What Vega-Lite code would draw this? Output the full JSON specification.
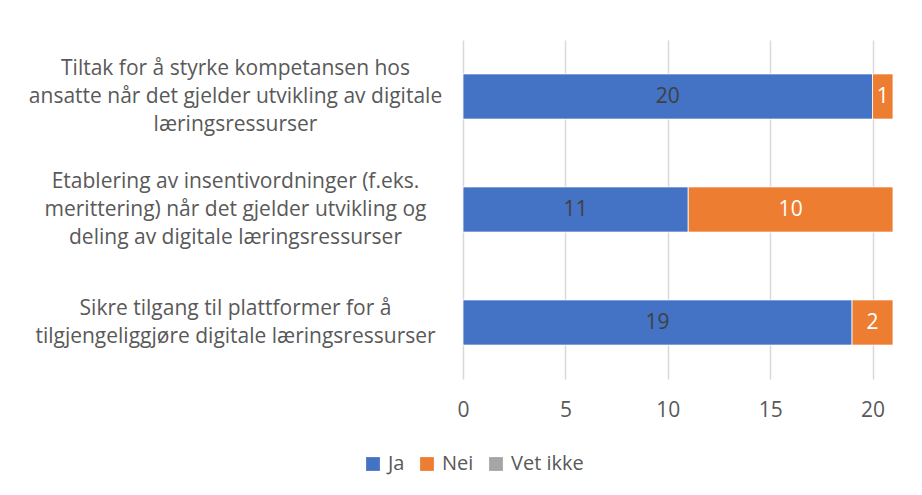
{
  "$schema": "https://vega.github.io/schema/vega-lite/v6.json",
  "width": 430,
  "height": 339,
  "autosize": "none",
  "padding": {"left": 463, "top": 40, "right": 29, "bottom": 116},
  "background": "white",
  "config": {
    "view": {"stroke": null},
    "font": "Open Sans",
    "axis": {"labelFont": "Open Sans", "labelColor": "#595959"},
    "legend": {"labelFont": "Open Sans", "labelColor": "#595959"}
  },
  "data": {
    "values": [
      {"tiltak": "Tiltak for å styrke kompetansen hos ansatte når det gjelder utvikling av digitale læringsressurser", "svar": "Ja", "antall": 20},
      {"tiltak": "Tiltak for å styrke kompetansen hos ansatte når det gjelder utvikling av digitale læringsressurser", "svar": "Nei", "antall": 1},
      {"tiltak": "Etablering av insentivordninger (f.eks. merittering) når det gjelder utvikling og deling av digitale læringsressurser", "svar": "Ja", "antall": 11},
      {"tiltak": "Etablering av insentivordninger (f.eks. merittering) når det gjelder utvikling og deling av digitale læringsressurser", "svar": "Nei", "antall": 10},
      {"tiltak": "Sikre tilgang til plattformer for å tilgjengeliggjøre digitale læringsressurser", "svar": "Ja", "antall": 19},
      {"tiltak": "Sikre tilgang til plattformer for å tilgjengeliggjøre digitale læringsressurser", "svar": "Nei", "antall": 2}
    ]
  },
  "transform": [
    {"stack": "antall", "groupby": ["tiltak"], "sort": [{"field": "svar", "order": "ascending"}], "as": ["x0", "x1"]}
  ],
  "encoding": {
    "y": {
      "field": "tiltak",
      "type": "nominal",
      "sort": [
        "Tiltak for å styrke kompetansen hos ansatte når det gjelder utvikling av digitale læringsressurser",
        "Etablering av insentivordninger (f.eks. merittering) når det gjelder utvikling og deling av digitale læringsressurser",
        "Sikre tilgang til plattformer for å tilgjengeliggjøre digitale læringsressurser"
      ],
      "scale": {"paddingInner": 0.6, "paddingOuter": 0.3},
      "axis": {
        "title": null,
        "domain": false,
        "ticks": false,
        "tickSize": 0,
        "labelPadding": 228,
        "labelAlign": "center",
        "labelBaseline": "middle",
        "labelFontSize": 21,
        "labelLineHeight": 28,
        "labelLimit": 0,
        "labelOffset": {"condition": {"test": "indexof(datum.value, 'Sikre') == 0", "value": -14}, "value": -28},
        "labelExpr": "indexof(datum.value, 'Tiltak') == 0 ? ['Tiltak for å styrke kompetansen hos', 'ansatte når det gjelder utvikling av digitale', 'læringsressurser'] : indexof(datum.value, 'Etablering') == 0 ? ['Etablering av insentivordninger (f.eks.', 'merittering) når det gjelder utvikling og', 'deling av digitale læringsressurser'] : ['Sikre tilgang til plattformer for å', 'tilgjengeliggjøre digitale læringsressurser']"
      }
    }
  },
  "layer": [
    {
      "mark": {"type": "bar", "stroke": "white", "strokeWidth": 0.8},
      "encoding": {
        "x": {
          "field": "x0",
          "type": "quantitative",
          "scale": {"domain": [0, 21], "nice": false},
          "axis": {
            "title": null,
            "values": [0, 5, 10, 15, 20],
            "domain": false,
            "ticks": false,
            "labelPadding": 20,
            "labelFontSize": 21,
            "gridColor": "#D9D9D9",
            "gridWidth": 1.5,
            "labelFlush": false
          }
        },
        "x2": {"field": "x1"},
        "color": {
          "field": "svar",
          "type": "nominal",
          "scale": {"domain": ["Ja", "Nei", "Vet ikke"], "range": ["#4472C4", "#ED7D31", "#A5A5A5"]},
          "legend": {
            "title": null,
            "orient": "none",
            "direction": "horizontal",
            "legendX": -100,
            "legendY": 414,
            "symbolType": "square",
            "symbolSize": 190,
            "symbolStrokeWidth": 0,
            "labelFontSize": 20,
            "labelOffset": 5,
            "columnPadding": 12
          }
        }
      }
    },
    {
      "transform": [{"calculate": "(datum.x0 + datum.x1) / 2", "as": "xmid"}],
      "mark": {"type": "text", "fontSize": 21, "baseline": "middle", "align": "center"},
      "encoding": {
        "x": {"field": "xmid", "type": "quantitative"},
        "text": {"field": "antall", "type": "quantitative"},
        "color": {"condition": {"test": "datum.svar == 'Ja'", "value": "#404040"}, "value": "white"}
      }
    }
  ]
}
